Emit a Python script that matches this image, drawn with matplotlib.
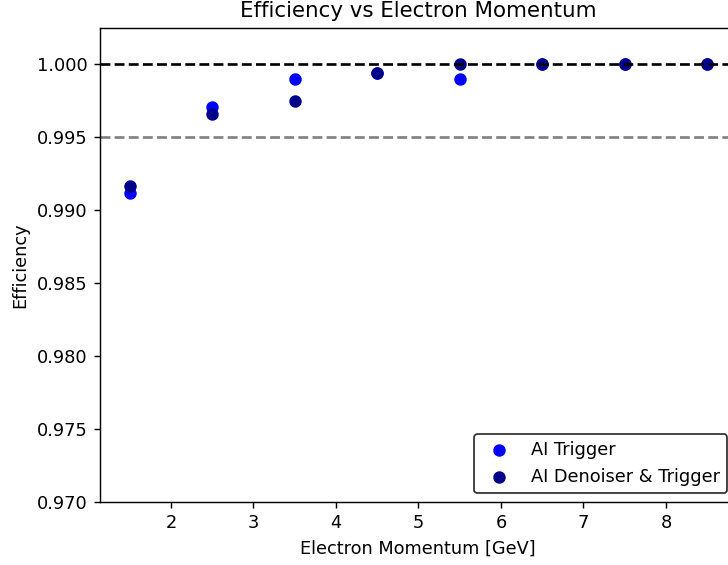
import matplotlib
matplotlib.use('Agg')
import matplotlib.pyplot as plt

momentum = [1.5, 2.5, 3.5, 4.5, 5.5, 6.5, 7.5, 8.5]
eff_trigger = [0.99115, 0.99705, 0.99897, 0.99940, 0.99897, 1.0, 1.0, 1.0]
eff_denoiser = [0.99162, 0.99658, 0.99747, 0.99940, 0.99998, 1.0, 1.0, 1.0]

W, H, DPI = 728, 565, 128


def main():
    fig = plt.figure(figsize=(W / DPI, H / DPI), dpi=DPI)
    # axes runs off the right edge, as in the reference crop
    ax = fig.add_axes([100 / W, 63 / H, 636 / W, 474 / H])
    ax.scatter(momentum, eff_trigger, color='blue', label='AI Trigger')
    ax.scatter(momentum, eff_denoiser, color='darkblue', label='AI Denoiser & Trigger')
    ax.axhline(1.0, color='black', linestyle='--')
    ax.axhline(0.995, color='gray', linestyle='--')
    ax.set_xlim(1.14, 8.85)
    ax.set_ylim(0.970, 1.00248)
    ax.set_xlabel('Electron Momentum [GeV]')
    ax.set_ylabel('Efficiency')
    ax.set_title('Efficiency vs Electron Momentum')
    ax.legend(loc='lower right', edgecolor='black')
    fig.savefig('out.png', dpi=DPI)


if __name__ == '__main__':
    main()
